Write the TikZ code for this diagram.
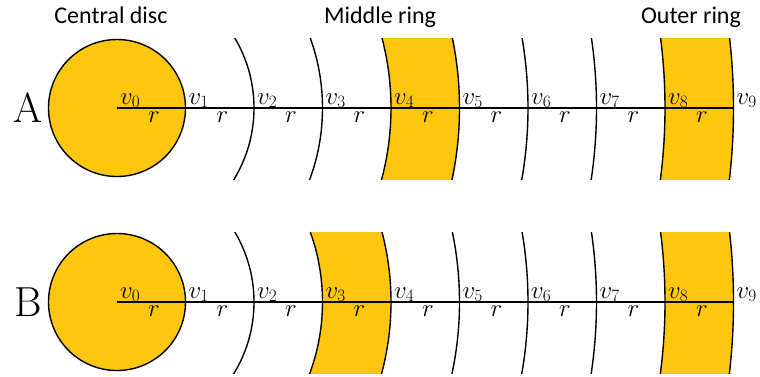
\documentclass[tikz,border=0pt]{standalone}
\usepackage{fontspec}
\setsansfont{Carlito}
\definecolor{ringyellow}{RGB}{255,198,14}
\tikzset{
  ringfill/.style={fill=ringyellow},
  arcline/.style={line width=1.4pt, draw=black},
  axisline/.style={line width=1.5pt, draw=black},
  vlabel/.style={anchor=base west, inner sep=0pt, font=\fontsize{25}{25}\selectfont},
  rlabel/.style={anchor=base, inner sep=0pt, font=\fontsize{24}{24}\selectfont},
  title/.style={anchor=base, inner sep=0pt, font=\sffamily\fontsize{24}{24}\selectfont},
  rowlabel/.style={anchor=base, inner sep=0pt, font=\fontsize{42}{42}\selectfont},
}
\newcommand\drawdiscrow[4]{%
  % #1 = row y, #2 = prefix, #3 = filled ring indices, #4 = row letter
  \begin{scope}
    \clip (45,#1-70) rectangle (760,#1+71);
    \foreach \k in {#3} {
      \fill[ringfill, even odd rule] (117,#1) circle ({\k*68.5}) (117,#1) circle ({(\k+1)*68.5});
    }
    \foreach \k in {2,...,9} {
      \draw[arcline] (117,#1) circle ({\k*68.5});
    }
  \end{scope}
  \fill[ringfill] (117,#1) circle (68.5);
  \draw[arcline] (117,#1) circle (68.5);
  \foreach \k in {0,...,9} {
    \coordinate (#2p\k) at ({117+\k*68.5},#1);
  }
  \draw[axisline] (#2p0) -- (#2p9);
  \foreach \k in {0,...,9} {
    \node[vlabel] (#2v\k) at ($(#2p\k)+(3,-4)$) {$v_{\k}$};
  }
  \foreach \k in {0,...,8} {
    \node[rlabel] (#2r\k) at ($(#2p\k)+(37,14)$) {$r$};
  }
  \node[rowlabel] (#2row) at (28,#1+14) {#4};
}
\usetikzlibrary{calc}
\begin{document}
\begin{tikzpicture}[x=1pt,y=-1pt]
  \useasboundingbox (0,0) rectangle (760,376);
  \drawdiscrow{108}{A}{4,8}{A}
  \drawdiscrow{302}{B}{3,8}{B}
  \node[title] (tcentral) at (111,23) {Central disc};
  \node[title] (tmiddle) at (380,23) {Middle ring};
  \node[title] (touter) at (691,23) {Outer ring};
\end{tikzpicture}
\end{document}
